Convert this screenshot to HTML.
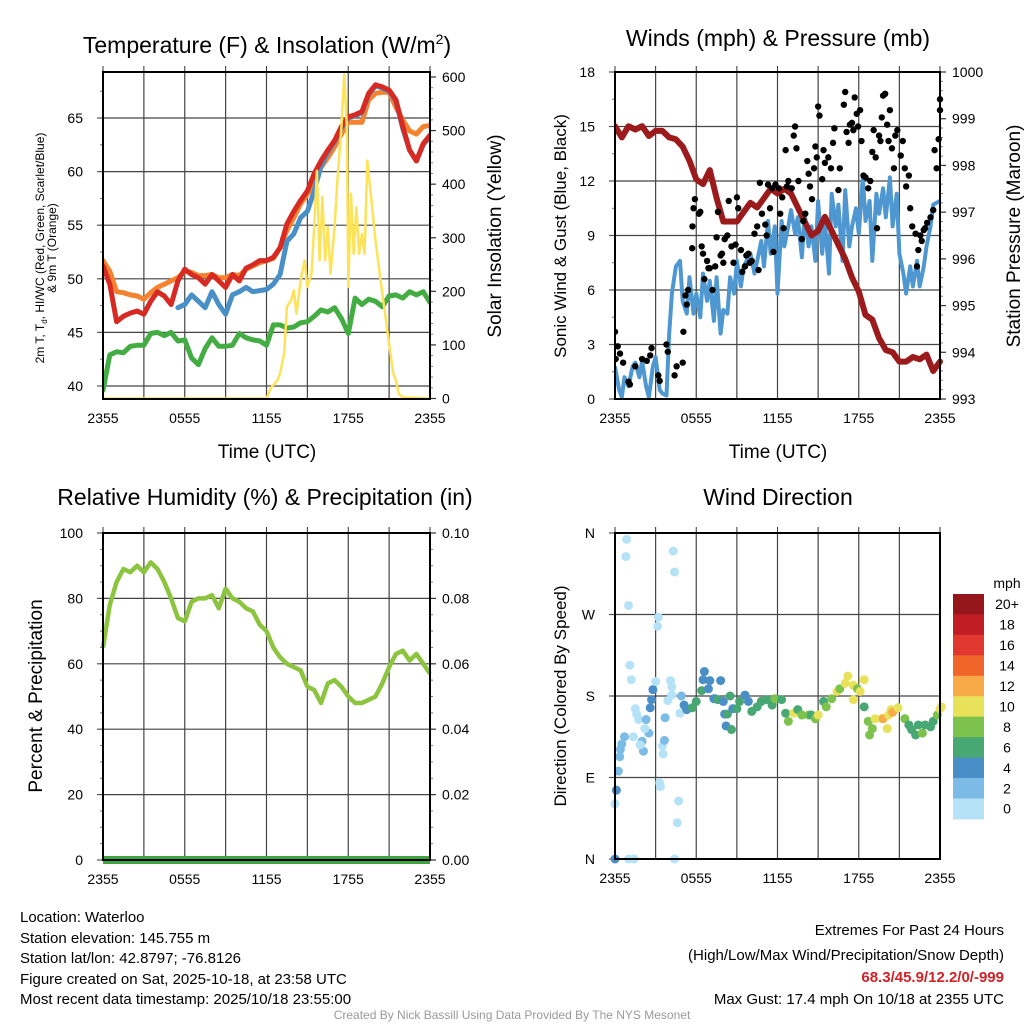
<!DOCTYPE html>
<html><head><meta charset="utf-8">
<style>
html,body{margin:0;padding:0;background:#fff;}
svg{display:block;font-family:"Liberation Sans",Arial,sans-serif;}
</style></head>
<body>
<svg id="chart" width="1024" height="1024" viewBox="0 0 1024 1024" xmlns="http://www.w3.org/2000/svg">
<rect width="1024" height="1024" fill="#fff"/>
<g id="layer"></g>
<!-- titles -->
<text x="267" y="53" font-size="23" text-anchor="middle">Temperature (F) &amp; Insolation (W/m<tspan dy="-9" font-size="14">2</tspan><tspan dy="9">)</tspan></text>
<text x="778" y="46" font-size="23" text-anchor="middle">Winds (mph) &amp; Pressure (mb)</text>
<text x="265" y="505" font-size="23" text-anchor="middle">Relative Humidity (%) &amp; Precipitation (in)</text>
<text x="778" y="505" font-size="23" text-anchor="middle">Wind Direction</text>
<!-- axis titles -->
<text x="267" y="458" font-size="19" text-anchor="middle">Time (UTC)</text>
<text x="778" y="458" font-size="19" text-anchor="middle">Time (UTC)</text>
<text transform="translate(44,248) rotate(-90)" font-size="12" text-anchor="middle">2m T, T<tspan font-size="8" dy="3">d</tspan><tspan dy="-3">, HI/WC (Red, Green, Scarlet/Blue)</tspan></text>
<text transform="translate(56,248) rotate(-90)" font-size="12" text-anchor="middle">&amp; 9m T (Orange)</text>
<text transform="translate(501,236) rotate(-90)" font-size="19" text-anchor="middle">Solar Insolation (Yellow)</text>
<text transform="translate(566,236) rotate(-90)" font-size="17" text-anchor="middle">Sonic Wind &amp; Gust (Blue, Black)</text>
<text transform="translate(1020,236) rotate(-90)" font-size="19" text-anchor="middle">Station Pressure (Maroon)</text>
<text transform="translate(42,696) rotate(-90)" font-size="19" text-anchor="middle">Percent &amp; Precipitation</text>
<text transform="translate(566,696) rotate(-90)" font-size="17" text-anchor="middle">Direction (Colored By Speed)</text>
<!-- colorbar -->
<g id="cbar"></g>
<text x="1007" y="588" font-size="14" text-anchor="middle">mph</text>
<!-- footer text -->
<g font-size="15">
<text x="20" y="922">Location: Waterloo</text>
<text x="20" y="943">Station elevation: 145.755 m</text>
<text x="20" y="963">Station lat/lon: 42.8797; -76.8126</text>
<text x="20" y="984">Figure created on Sat, 2025-10-18, at 23:58 UTC</text>
<text x="20" y="1004">Most recent data timestamp: 2025/10/18 23:55:00</text>
</g>
<g font-size="15" text-anchor="end">
<text x="1004" y="935">Extremes For Past 24 Hours</text>
<text x="1004" y="960">(High/Low/Max Wind/Precipitation/Snow Depth)</text>
<text x="1004" y="982" fill="#d42027" font-weight="bold">68.3/45.9/12.2/0/-999</text>
<text x="1004" y="1004">Max Gust: 17.4 mph On 10/18 at 2355 UTC</text>
</g>
<text x="512" y="1019" font-size="12" fill="#999" text-anchor="middle">Created By Nick Bassill Using Data Provided By The NYS Mesonet</text>
</svg>
<script>
// ---- Data ----
const xTickLabels = ["2355","0555","1155","1755","2355"];
const hours = [0,0.5,1,1.5,2,2.5,3,3.5,4,4.5,5,5.5,6,6.5,7,7.5,8,8.5,9,9.5,10,10.5,11,11.5,12,12.5,13,13.5,14,14.5,15,15.5,16,16.5,17,17.5,18,18.5,19,19.5,20,20.5,21,21.5,22,22.5,23,23.5,24];
const tempRed = [51.2,49.5,46,46.5,46.8,47,46.7,47.9,48.8,48.4,47.6,49.8,50.9,50.4,50.1,49.5,50.4,49.8,49.2,50.4,49.8,51,51.3,51.7,51.7,52,52.9,55.1,56.3,57.3,58.2,59.8,61,62,62.9,64.2,65.1,65.3,65.6,67.3,68.1,67.9,67.6,66.7,64.2,62,61,62.6,63.4];
const tempOrange = [51.7,50.7,48.8,48.7,48.5,48.4,48.1,48.7,49.2,49.5,49.8,50.1,50.7,50.6,50.3,50.3,50.4,50.1,50.1,50.4,50.3,50.9,51.2,51.5,51.7,51.9,52.9,54.5,55.7,57,57.9,59.2,60.4,61.3,62.3,63.5,64.6,64.6,64.6,66.7,67.3,67.4,67.4,66,64.8,63.8,63.5,64.2,64.3];
const tempBlue = [null,null,null,null,null,null,null,null,null,null,null,47.3,47.6,48.5,47.9,47.3,48.8,47.6,46.7,48.5,48.8,49.2,48.8,48.9,49,49.5,50.4,53.5,54.2,55.7,56.3,58.2,60.5,61.8,62.8,64,65,65.2,65.5,67.2,68,67.8,67.5,66.6,64,62,61,62.5,63.3];
const dewGreen = [39.6,42.9,43.2,43.1,43.7,43.8,43.8,44.9,45,44.7,45,44.2,44.3,42.6,42,43.5,44.5,43.7,43.7,43.8,44.9,44.5,44.3,44.2,43.8,45.7,45.7,45.4,45.5,45.9,46,46.5,47.1,46.9,47.3,46.3,44.9,48.2,47.6,48.1,47.9,47.4,48.4,48.5,48.2,48.8,48.5,48.8,47.8];
const solarT = [0,12,12.3,12.8,13,13.3,13.5,13.8,14,14.2,14.5,14.8,15,15.3,15.5,15.7,15.9,16.1,16.3,16.5,16.7,17,17.2,17.5,17.7,17.9,18,18.2,18.4,18.6,18.8,19,19.2,19.4,19.6,20,20.5,21,21.3,21.5,21.7,22,24];
const solarV = [0,0,19,34,47,84,171,183,202,158,220,258,208,233,320,425,258,376,258,320,233,320,407,506,605,506,208,382,270,357,270,307,270,444,394,295,196,102,47,34,9,2,0];
const windT = [0,0.3,0.5,0.7,1,1.3,1.5,1.8,2,2.3,2.5,2.8,3,3.3,3.5,3.8,4,4.2,4.5,4.8,5,5.3,5.5,5.8,6,6.3,6.5,6.8,7,7.3,7.5,7.8,8,8.3,8.5,8.8,9,9.3,9.5,10,10.3,10.5,10.8,11,11.3,11.5,11.8,12,12.3,12.5,12.8,13,13.3,13.5,13.8,14,14.3,14.5,14.8,15,15.3,15.5,15.8,16,16.3,16.5,16.8,17,17.3,17.5,17.8,18,18.3,18.5,18.8,19,19.3,19.5,19.8,20,20.3,20.5,20.8,21,21.3,21.5,21.8,22,22.3,22.5,22.8,23,23.3,23.5,24];
const windV = [1.8,0.5,0.1,1.2,0.7,1.8,2,1.2,2.1,0.7,0.1,1.8,2.3,0.5,0.3,0.2,3.6,5.8,7.3,7.6,5.4,4.7,6.7,4.7,5.8,4.5,6.9,5.4,6.5,4.3,6.7,3.6,4.9,4.7,6.7,5.8,7.6,6.2,7.3,8,6.9,7.6,8.7,7.3,9.8,8,9.5,5.8,9.8,8.4,9.5,10.4,9.1,10,7.8,10.2,8.4,9.5,7.6,10.9,8,9.8,6.9,11.3,9.5,10.7,7.6,11.5,8.4,9.5,10.5,9.1,12.2,9.8,10.9,7.6,11.3,10.2,11.6,10,12.2,9.5,11.3,8,6.9,5.8,7.3,6.2,7.6,6.2,7.3,8.4,9.5,10.7,10.9];
const pressT = [0,0.5,1,1.5,2,2.5,3,3.5,4,4.5,5,5.5,6,6.5,7,7.5,8,8.5,9,9.5,10,10.5,11,11.5,12,12.5,13,13.5,14,14.5,15,15.5,16,16.5,17,17.5,18,18.5,19,19.5,20,20.5,21,21.5,22,22.5,23,23.5,24];
const pressV = [998.84,998.6,998.84,998.77,998.84,998.63,998.74,998.74,998.6,998.56,998.4,998.1,997.7,997.6,997.9,997.3,996.8,996.8,996.8,997,997.2,997.1,997.3,997.5,997.4,997.5,997.4,997.1,996.8,996.5,996.6,996.9,996.6,996.3,996,995.6,995.3,994.8,994.7,994.3,994.05,994,993.8,993.8,993.9,993.85,993.95,993.6,993.8];
const gustT = [0,0.2,0.37,0.05,0.6,1,1.1,1.5,2,2.35,2.6,2.7,3.2,3.3,3.8,3.9,4.4,4.55,5,5.05,5.2,5.3,5.4,5.7,5.72,5.8,5.9,6.2,6.3,6.4,6.5,6.6,6.8,6.9,7,7.2,7.4,7.5,7.6,7.8,7.9,8.0,8.1,8.3,8.4,8.6,8.75,8.9,9,9.1,9.3,9.4,9.6,9.7,9.85,9.95,10.1,10.3,10.5,10.6,10.7,10.85,11.1,11.2,11.3,11.45,11.6,11.7,11.85,12.1,12.2,12.35,12.45,12.6,12.7,12.8,13.05,13.2,13.3,13.4,13.55,13.8,13.9,14.05,14.2,14.3,14.4,14.55,14.7,14.8,14.9,15,15.1,15.3,15.4,15.5,15.75,15.95,16.1,16.2,16.5,16.6,16.9,17,17.1,17.25,17.35,17.5,17.6,17.7,17.85,17.95,18.1,18.2,18.35,18.5,18.7,18.85,19,19.1,19.25,19.35,19.5,19.6,19.7,19.8,19.95,20.1,20.2,20.3,20.45,20.6,20.7,20.85,21.1,21.25,21.4,21.5,21.7,21.8,21.95,22.2,22.3,22.4,22.55,22.65,22.8,22.9,23.05,23.3,23.5,23.6,23.75,23.9,24,24];
const gustV = [3.7,2.9,2.5,2.2,2,0.95,0.8,1.8,2.2,2.1,2.4,2.8,1.3,1,3,2.6,1.3,1.8,2,3.7,5.7,5.2,6,8.3,9.5,10.5,11,10.2,10.3,8.4,8,6.6,7.6,7.2,7.2,6,7.3,8.9,10.3,7.9,8,7.5,8.8,9,10.9,8.4,7.5,8.5,11.1,10.5,8.2,7,7.3,7.9,8,7.5,7.6,9.1,9.5,7.1,11.9,10.2,9.6,9,11.8,10.5,11.6,8.1,11.8,11.6,10.2,11.1,9.4,13.7,11.7,12,11.6,14.5,15,13.8,12,8.8,9.8,10.2,13.1,12.4,11.7,11,12.7,13.9,13.3,16.1,15.6,12.1,13.7,13,13.3,12.7,14.1,14.9,11.5,12.7,16.2,16.9,14.7,14.1,15.1,15.2,14.8,16.6,15.7,15,15.9,14.2,12.3,12.2,11.6,12,13.6,14.8,13.3,9.4,14.5,14.2,15.5,16.7,16.8,15.1,14.2,15.9,13.8,12.7,14.5,14.8,13.4,14.2,12.7,11.7,12.3,10.5,9.5,9.1,7.3,8.2,9,8.7,9.3,9.4,9.7,10,10.4,13.7,12.7,14.3,15.9,16.5,17.3];
const rhT = hours;
const rhV = [65,78,85,89,88,90,88,91,89,85,80,74,73,79,80,80,81,77,83,80,79,77,76,72,70,65,62,60,59,58,53,52,48,54,55,53,50,48,48,49,50,54,59,63,64,61,63,60,57];
const precipV = [0,0];
const dirT = [0.86,0.8,1,1.1,1.2,1.5,1.6,1.75,1.35,0.7,0.5,0.4,0.35,0.25,0.1,0,0,1,1.4,2.3,2.5,2.6,2.7,2.8,3,3.2,3.15,2,2.1,1.85,2.2,3.3,3.35,3.5,3.55,3.65,3.7,3.9,4.1,4.2,4.2,4.3,4.4,4.7,4.6,4.4,4.8,4.9,5.1,5.3,5.7,6,6.4,6.5,6.6,7,6.9,7.3,7.8,7.4,7.6,8,8.1,8.2,8.3,8.5,8.6,8.7,9,9.2,9.6,9.85,10.1,10.5,10.8,11.2,11.6,11.8,12.3,12.6,12.8,13.2,13.5,13.8,14.3,14.5,14.8,15,15.4,15.6,16,16.4,16.6,17,17.2,17.6,17.9,18.1,18.4,17.6,18.4,18.7,19,18.8,19.2,19.7,19.8,20.1,20.2,20.4,20.5,20.9,21.4,21.7,21.9,22.2,22.4,22.7,22.9,23.3,23.5,23.8,24,24.1];
const dirV = [353,334,280,214,198,166,160,154,135,135,127,121,113,97,76,61,0,0,0,154,139,167,176,187,196,267,257,130,119,126,144,84,80,125,116,131,156,175,197,181,190,340,317,64,40,0,161,180,170,165,167,174,186,198,207,197,188,177,197,177,176,174,160,147,160,180,143,166,166,174,181,174,163,168,174,176,170,177,176,161,152,161,165,159,159,159,155,159,174,168,177,185,188,194,202,192,188,185,198,176,168,152,144,137,155,155,155,144,159,165,162,167,155,148,143,137,148,139,148,146,152,159,166,168];
const dirS = [1,1,1,1,1,1,1,1,1,3,3,3,3,3,5,1,5,1,1,3,3,5,5,5,1,1,1,3,3,1,1,1,1,1,1,3,3,1,1,1,1,1,1,1,1,1,1,3,5,5,7,7,7,5,5,5,5,5,5,5,7,5,5,5,7,7,7,5,7,7,5,5,7,7,7,7,7,9,7,7,9,11,7,9,9,7,9,11,7,9,9,11,9,11,11,11,9,11,11,11,7,9,9,9,11,11,13,11,11,11,13,11,9,7,7,7,7,9,7,7,7,9,11,11];
const cbarLabels = ["0","2","4","6","8","10","12","14","16","18","20+"];
const cbarColors = ["#b5e2f7","#7bbbe6","#4a8ec8","#47a873","#7cc24c","#e8e25a","#f7aa47","#f06529","#e0382e","#c11d25","#96171b"];

// ---- helpers ----
const NS = "http://www.w3.org/2000/svg";
const layer = document.getElementById("layer");
function mk(tag, attrs, parent){
  const e = document.createElementNS(NS, tag);
  for (const k in attrs) e.setAttribute(k, attrs[k]);
  (parent||layer).appendChild(e);
  return e;
}
function lin(d0,d1,r0,r1){ return v => r0 + (v-d0)/(d1-d0)*(r1-r0); }

function pathFrom(xs, ys, xf, yf){
  let d = "", pen = false;
  for (let i=0;i<xs.length;i++){
    if (ys[i]===null || ys[i]===undefined){ pen=false; continue; }
    d += (pen?"L":"M") + xf(xs[i]).toFixed(1) + "," + yf(ys[i]).toFixed(1);
    pen = true;
  }
  return d;
}

function panelFrame(name, L, R, T, B, hGrid, yf, leftTicks, leftLabels, leftMinor, rightTicks, rightLabels, rf, rightMinor, xf){
  const g = mk("g", {});
  
  
  for (let h=0; h<=24; h+=3){
    const x = xf(h);
    const vl = mk("line", {x1:x, y1:T, x2:x, y2:B, stroke:"#444", "stroke-width":1.2}, g);
    
    
    mk("line", {x1:x, y1:T-6, x2:x, y2:T, stroke:"#333", "stroke-width":1}, g);
  }
  hGrid.forEach(v => {
    const y = yf(v);
    const hl = mk("line", {x1:L, y1:y, x2:R, y2:y, stroke:"#444", "stroke-width":1.2}, g);
    
    
  });
  const ax = mk("g", {});
  
  
  leftMinor.forEach(v => mk("line", {x1:L-3, y1:yf(v), x2:L, y2:yf(v), stroke:"#777", "stroke-width":1}, ax));
  leftTicks.forEach((v,i) => {
    mk("line", {x1:L-6, y1:yf(v), x2:L, y2:yf(v), stroke:"#555", "stroke-width":1.2}, ax);
    const t = mk("text", {x:L-20, y:yf(v)+5, "font-size":14, "text-anchor":"end"}, ax);
    t.textContent = leftLabels[i];
  });
  if (rightTicks){
    const rx = mk("g", {});
    
    
    rightMinor.forEach(v => mk("line", {x1:R, y1:rf(v), x2:R+3, y2:rf(v), stroke:"#777", "stroke-width":1}, rx));
    rightTicks.forEach((v,i) => {
      mk("line", {x1:R, y1:rf(v), x2:R+6, y2:rf(v), stroke:"#333", "stroke-width":1.2}, rx);
      const t = mk("text", {x:R+12, y:rf(v)+5, "font-size":14, "text-anchor":"start"}, rx);
      t.textContent = rightLabels[i];
    });
  }
  const xa = mk("g", {});
  
  
  xTickLabels.forEach((lab,i) => {
    const t = mk("text", {x:xf(i*6), y:B+24, "font-size":14, "text-anchor":"middle"}, xa);
    t.textContent = lab;
  });
}
function frameBox(name,L,R,T,B){
  const r = mk("rect", {x:L, y:T, width:R-L, height:B-T, fill:"none", stroke:"#000", "stroke-width":2});
  
  
}
function range(a,b,s){ const o=[]; for(let v=a; v<=b+1e-9; v+=s) o.push(+v.toFixed(4)); return o; }

// ---- Panel 1: temperature ----
(function(){
  const L=103,R=430,T=72,B=399;
  const xf = lin(0,24,L,R);
  const yf = lin(40,65,386,118);
  const sf = lin(0,600,398.5,77);
  const tks = [40,45,50,55,60,65];
  panelFrame("temperature", L,R,T,B, tks, yf, tks, tks.map(String), range(37.5,67.5,2.5).filter(v=>yf(v)>T&&yf(v)<B),
    [0,100,200,300,400,500,600], ["0","100","200","300","400","500","600"], sf, range(0,600,20), xf);
  const clip = mk("clipPath",{id:"c1"}); mk("rect",{x:L,y:T,width:R-L,height:B-T},clip);
  const g = mk("g",{"clip-path":"url(#c1)"});
  const series = [
    ["dewpoint-line", dewGreen, "#43ad43", 5],
    ["orange-9m-temp-line", tempOrange, "#f4822e", 5],
    ["heat-index-wind-chill-line", tempBlue, "#4990c9", 5],
    ["temperature-line", tempRed, "#d62a22", 5]
  ];
  series.forEach(s => {
    const p = mk("path",{d:pathFrom(hours,s[1],xf,yf),fill:"none",stroke:s[2],"stroke-width":s[3],"stroke-linejoin":"round","stroke-linecap":"round"},g);
    
    
  });
  const sp = mk("path",{d:pathFrom(solarT,solarV,xf,sf),fill:"none",stroke:"#fde35a","stroke-width":2.5,"stroke-linejoin":"round"},g);
  
  
  frameBox("temperature",L,R,T,B);
})();

// ---- Panel 2: winds ----
(function(){
  const L=615,R=940,T=72,B=399;
  const xf = lin(0,24,L,R);
  const yf = lin(0,18,399,72);
  const pf = lin(993,1000,399,72);
  const tks = [0,3,6,9,12,15,18];
  panelFrame("winds", L,R,T,B, tks.slice(1,6), yf, tks, tks.map(String), range(0,18,1.5),
    [993,994,995,996,997,998,999,1000], ["993","994","995","996","997","998","999","1000"], pf, range(993,1000,0.2), xf);
  const clip = mk("clipPath",{id:"c2"}); mk("rect",{x:L,y:T-4,width:R-L+4,height:B-T+4},clip);
  const g = mk("g",{"clip-path":"url(#c2)"});
  const wp = mk("path",{d:pathFrom(windT,windV,xf,yf),fill:"none",stroke:"#4e97d1","stroke-width":4,"stroke-linejoin":"round"},g);
  
  
  const pp = mk("path",{d:pathFrom(pressT,pressV,xf,pf),fill:"none",stroke:"#9b1a1c","stroke-width":6,"stroke-linejoin":"round","stroke-linecap":"round"},g);
  
  
  for (let i=0;i<gustT.length;i++){
    const c = mk("circle",{cx:xf(gustT[i]),cy:yf(gustV[i]),r:3.2,fill:"#000"},g);
    
    
  }
  frameBox("winds",L,R,T,B);
})();

// ---- Panel 3: humidity ----
(function(){
  const L=103,R=430,T=533,B=860;
  const xf = lin(0,24,L,R);
  const yf = lin(0,100,860,533);
  const qf = lin(0,0.1,860,533);
  const tks = [0,20,40,60,80,100];
  panelFrame("humidity", L,R,T,B, tks.slice(1,5), yf, tks, tks.map(String), range(0,100,5),
    [0,0.02,0.04,0.06,0.08,0.10], ["0.00","0.02","0.04","0.06","0.08","0.10"], qf, range(0,0.1,0.005), xf);
  const rp = mk("path",{d:pathFrom(rhT,rhV,xf,yf),fill:"none",stroke:"#8cc43f","stroke-width":4.5,"stroke-linejoin":"round"});
  
  
  const pp = mk("path",{d:pathFrom([0,24],precipV,xf,qf),fill:"none",stroke:"#3fa43f","stroke-width":8});
  
  
  frameBox("humidity",L,R,T,B);
})();

// ---- Panel 4: wind direction ----
(function(){
  const L=615,R=940,T=533,B=859;
  const xf = lin(0,24,L,R);
  const yf = lin(0,360,859,533);
  const tks = [0,90,180,270,360];
  panelFrame("direction", L,R,T,B, [90,180,270], yf, tks, ["N","E","S","W","N"], [], null, null, null, null, xf);
  const g = mk("g",{});
  
  
  for (let i=0;i<dirT.length;i++){
    const bin = Math.min(10, Math.floor(dirS[i]/2));
    const c = mk("circle",{cx:xf(dirT[i]),cy:yf(dirV[i]),r:4.5,fill:cbarColors[bin]},g);
    
    
  }
  frameBox("direction",L,R,T,B);
  const cb = document.getElementById("cbar");
  const top=594, h=20.45;
  for (let i=0;i<cbarColors.length;i++){
    const idx = cbarColors.length-1-i;
    const r = mk("rect",{x:953,y:top+i*h,width:31,height:h+0.5,fill:cbarColors[idx]},cb);
    
    
    const t = mk("text",{x:1007,y:top+i*h+h/2+5,"font-size":14,"text-anchor":"middle"},cb);
    t.textContent = cbarLabels[idx];
  }
})();
</script>
</body></html>
